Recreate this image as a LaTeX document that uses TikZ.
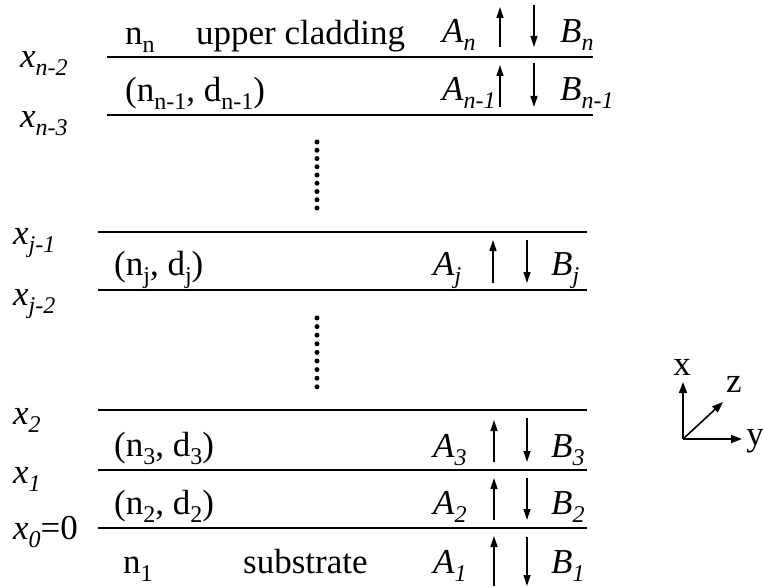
\documentclass[tikz,border=0pt]{standalone}
\usepackage{fontspec}
\setmainfont{Liberation Serif}
\usetikzlibrary{arrows.meta}
\newcommand\sbs[1]{\raisebox{-8pt}{\fontsize{24}{24}\selectfont #1}}
\newcommand\itl[2]{\textit{#1\sbs{#2}}}
\begin{document}
\begin{tikzpicture}[x=1pt,y=-1pt,
  txt/.style={inner sep=0pt, font=\fontsize{35}{40}\selectfont, anchor=base west},
  layer/.style={line width=1.8pt},
  wave/.style={line width=1.3pt, -{Triangle[length=11pt,width=7pt]}},
  axis/.style={line width=1.6pt, -{Triangle[length=11pt,width=8pt]}},
  dotm/.style={fill=black},
]
\useasboundingbox (0,0) rectangle (763,588);
% interfaces
\draw[layer] (107,57) -- (593,57);
\draw[layer] (107,115) -- (593,115);
\foreach \y in {232,290,410,470,528} \draw[layer] (98,\y) -- (587,\y);
% dots
\foreach \i in {0,...,8} \fill[dotm] (317,142+8.25*\i) circle (2.5pt);
\foreach \i in {0,...,8} \fill[dotm] (317,318+8.6*\i) circle (2.5pt);
% interface labels
\node[txt] (xn2) at (20,68) {\itl{x}{n-2}};
\node[txt] (xn3) at (20,128) {\itl{x}{n-3}};
\node[txt] (xj1) at (13,244) {\itl{x}{j-1}};
\node[txt] (xj2) at (13,305) {\itl{x}{j-2}};
\node[txt] (x2) at (13,424) {\itl{x}{2}};
\node[txt] (x1) at (13,483) {\itl{x}{1}};
\node[txt] (x0) at (13,539) {\itl{x}{0}=0};
% layer labels
\node[txt] (nn) at (125,45) {n\sbs{n}};
\node[txt] (uc) at (196,45) {upper cladding};
\node[txt] (nn1) at (125,102) {(n\sbs{n-1}, d\sbs{n-1})};
\node[txt] (nj) at (114,276) {(n\sbs{j}, d\sbs{j})};
\node[txt] (n3) at (114,456) {(n\sbs{3}, d\sbs{3})};
\node[txt] (n2) at (114,514) {(n\sbs{2}, d\sbs{2})};
\node[txt] (n1) at (123,573) {n\sbs{1}};
\node[txt] (sub) at (243,573) {substrate};
% amplitudes
\node[txt] (An) at (442,43) {\itl{A}{n}};
\node[txt] (Bn) at (560,43) {\itl{B}{n}};
\node[txt] (An1) at (442,101) {\itl{A}{n-1}};
\node[txt] (Bn1) at (560,101) {\itl{B}{n-1}};
\node[txt] (Aj) at (433,276) {\itl{A}{j}};
\node[txt] (Bj) at (551,276) {\itl{B}{j}};
\node[txt] (A3) at (433,457) {\itl{A}{3}};
\node[txt] (B3) at (551,457) {\itl{B}{3}};
\node[txt] (A2) at (433,514) {\itl{A}{2}};
\node[txt] (B2) at (551,514) {\itl{B}{2}};
\node[txt] (A1) at (433,573) {\itl{A}{1}};
\node[txt] (B1) at (551,573) {\itl{B}{1}};
% arrows
\draw[wave] (500,47) -- (500,7);
\draw[wave] (534,5) -- (534,47);
\draw[wave] (500,107) -- (500,65);
\draw[wave] (534,63) -- (534,107);
\draw[wave] (493,283) -- (493,240);
\draw[wave] (527,240) -- (527,283);
\draw[wave] (494,462) -- (494,420);
\draw[wave] (527,418) -- (527,462);
\draw[wave] (494,520) -- (494,478);
\draw[wave] (527,478) -- (527,520);
\draw[wave] (494,586) -- (494,536);
\draw[wave] (527,537) -- (527,586);
% axes
\coordinate (O) at (683,439);
\coordinate (Xe) at (683,382);
\coordinate (Ye) at (742,439);
\coordinate (Ze) at (723,402);
\draw[axis] (O) -- (Xe);
\draw[axis] (O) -- (Ye);
\draw[axis] (O) -- (Ze);
\node[inner sep=0pt, font=\fontsize{35}{40}\selectfont] (xl) at (682,367) {x};
\node[inner sep=0pt, font=\fontsize{35}{40}\selectfont] (zl) at (734,384) {z};
\node[inner sep=0pt, font=\fontsize{35}{40}\selectfont] (yl) at (755,441) {y};
\end{tikzpicture}
\end{document}
